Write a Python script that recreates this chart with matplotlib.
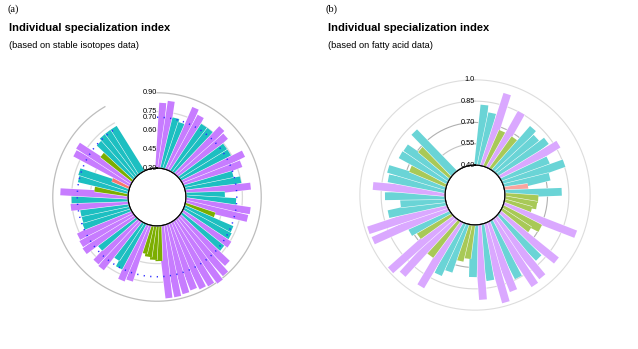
import numpy as np
import matplotlib.pyplot as plt
import matplotlib.patheffects as pe

plt.rcParams['font.family'] = ['Liberation Sans', 'DejaVu Sans']

# (a) specialization index from stable isotopes, one bar per individual,
# read clockwise starting at 12 o'clock
iso_values = [0.82, 0.84, 0.715, 0.69, 0.84, 0.80, 0.75, 0.75, 0.82, 0.80,
              0.745, 0.745, 0.84, 0.79, 0.70, 0.75, 0.82, 0.61, 0.70, 0.82,
              0.81, 0.55, 0.72, 0.73, 0.76, 0.73, 0.84, 0.89, 0.91, 0.89,
              0.88, 0.86, 0.87, 0.88, 0.88, 0.58, 0.57, 0.55, 0.53, 0.77,
              0.79, 0.71, 0.66, 0.79, 0.78, 0.68, 0.79, 0.78, 0.77, 0.70,
              0.69, 0.69, 0.76, 0.75, 0.84, 0.57, 0.71, 0.72, 0.45, 0.81,
              0.82, 0.62, 0.70, 0.72, 0.72, 0.72]
iso_groups = list("PPTTPPTTPPTTPPTTPTTPPGTTPTPPPPPPPPPGGGGPPTTPPTPPPTTTPTPGTTRPPGTTTT")
iso_ticks = [0.30, 0.45, 0.60, 0.70, 0.75, 0.90]
iso_rings = [0.45, 0.60, 0.75, 0.90]
iso_mean = 0.705

# (b) specialization index from fatty acids
fa_values = [0.826, 0.778, 0.935, 0.677, 0.853, 0.675, 0.81, 0.78, 0.82, 0.877,
             0.76, 0.855, 0.73, 0.567, 0.80, 0.635, 0.63, 0.60, 0.95, 0.705,
             0.646, 0.925, 0.82, 0.935, 0.95, 0.845, 0.915, 0.975, 0.80, 0.928,
             0.767, 0.64, 0.665, 0.758, 0.805, 0.937, 0.72, 0.945, 0.986, 0.68,
             0.717, 0.975, 0.98, 0.813, 0.717, 0.823, 0.91, 0.81, 0.827, 0.68,
             0.785, 0.78, 0.69, 0.805]
fa_groups = list("TTPGPGTTTPTTTRTGGGPGGPTPPTPPTPTGGTTPGPPGTPPTTTPTTGTTGT")
fa_ticks = [0.40, 0.55, 0.70, 0.85, 1.0]
fa_tick_labels = ["0.40", "0.55", "0.70", "0.85", "1.0"]
fa_rings = [0.55, 0.70, 0.85, 1.0]

group_colors = {"T": "#1DBFC1", "P": "#C77CFF", "G": "#7CAE00", "R": "#F8766D"}

fig = plt.figure(figsize=(6.38, 3.49), dpi=100)
W, H = 638.0, 349.0


def polar_panel(cx, cy, radius_px, rmin, rmax, r0):
    ax = fig.add_axes([(cx - radius_px) / W, (H - cy - radius_px) / H,
                       2 * radius_px / W, 2 * radius_px / H], projection='polar')
    ax.set_theta_zero_location('N')
    ax.set_theta_direction(-1)
    ax.set_ylim(rmin, rmax)
    ax.set_rorigin(r0)
    ax.grid(False)
    ax.set_xticks([])
    ax.set_yticks([])
    ax.spines['polar'].set_visible(False)
    ax.patch.set_alpha(0)
    return ax


def draw_bars(ax, values, groups, rmin, first_deg, last_deg, alpha, bar_pt):
    # straight (rectangular) bars, as in the original, drawn as thick radial strokes
    theta = np.deg2rad(np.linspace(first_deg, last_deg, len(values)))
    for th, v, g in zip(theta, values, groups):
        ax.plot([th, th], [rmin, v], color=group_colors[g], alpha=alpha,
                lw=bar_pt, solid_capstyle='butt', zorder=3,
                path_effects=[pe.Stroke(linewidth=bar_pt + 0.7, foreground='white', alpha=1),
                              pe.Normal()])
    full = np.linspace(0, 2 * np.pi, 400)
    ax.fill_between(full, 0, rmin, color='white', zorder=5)
    ax.plot(full, np.full_like(full, rmin), color='black', lw=0.9, zorder=6, clip_on=False)


# ---- panel (a) ----
ax_a = polar_panel(157, 197, 108, 0.30, 0.93, 0.069)
arc = np.linspace(0, np.deg2rad(330), 300)
for r in iso_rings:
    c = '#BDBDBD' if r == 0.90 else '#D9D9D9'
    ax_a.plot(arc, np.full_like(arc, r), color=c, lw=0.9, zorder=1)
draw_bars(ax_a, iso_values, iso_groups, 0.30, 3.5, 328, 1.0, 5.0)
ax_a.plot(arc, np.full_like(arc, iso_mean), color='#2B2BFF', lw=1.1,
          linestyle=(0, (0.8, 3.5)), zorder=4)
for t in iso_ticks:
    ax_a.text(0, t, f"{t:.2f}", ha='right', va='center', fontsize=5.3, zorder=7)

# ---- panel (b) ----
ax_b = polar_panel(475, 195, 118, 0.40, 1.02, 0.189)
full = np.linspace(0, 2 * np.pi, 400)
for r, c in zip(fa_rings, ['#C4C4C4', '#B0B0B0', '#D8D8D8', '#DDDDDD']):
    ax_b.plot(full, np.full_like(full, r), color=c, lw=0.8, zorder=1)
draw_bars(ax_b, fa_values, fa_groups, 0.40, 6, 316, 0.66, 5.6)
for t, lab in zip(fa_ticks, fa_tick_labels):
    ax_b.text(0, t, lab, ha='right', va='center', fontsize=5.3, zorder=7)

# ---- titles ----
fig.text(7 / W, 1 - 9 / H, "(a)", family='Liberation Serif', fontsize=7.5, va='center')
fig.text(326 / W, 1 - 9 / H, "(b)", family='Liberation Serif', fontsize=7.5, va='center')
fig.text(9 / W, 1 - 28 / H, "Individual specialization index", fontsize=8,
         fontweight='bold', va='center')
fig.text(328 / W, 1 - 28 / H, "Individual specialization index", fontsize=8,
         fontweight='bold', va='center')
fig.text(9 / W, 1 - 46 / H, "(based on stable isotopes data)", fontsize=6.7, va='center')
fig.text(328 / W, 1 - 46 / H, "(based on fatty acid data)", fontsize=6.7, va='center')

fig.savefig("out.png", dpi=100)
